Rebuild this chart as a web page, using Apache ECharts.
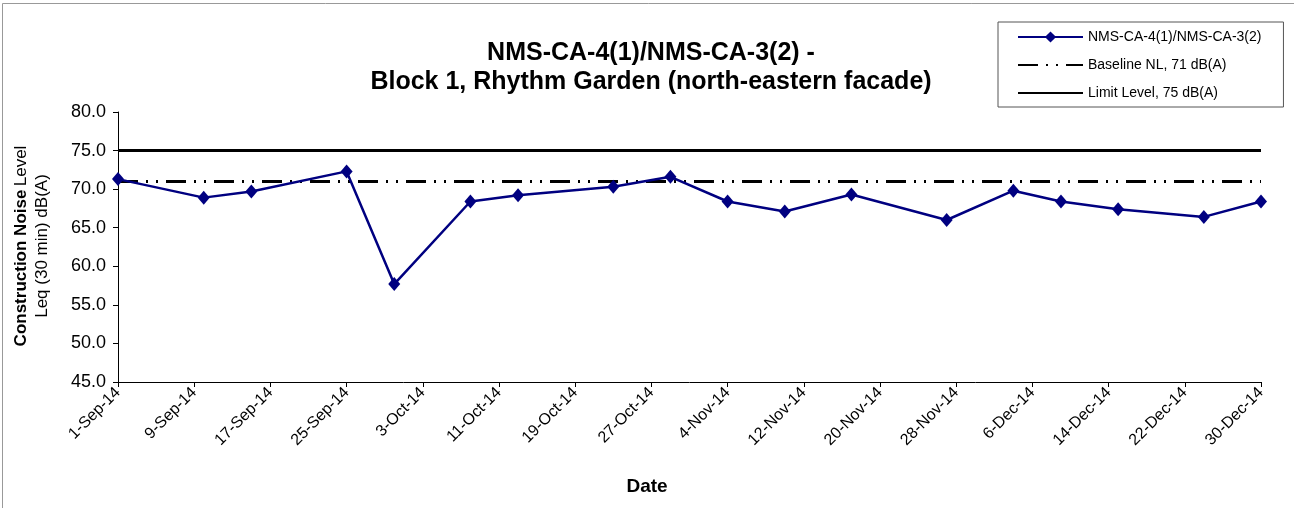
<!DOCTYPE html>
<html>
<head>
<meta charset="utf-8">
<script src="https://cdn.jsdelivr.net/npm/echarts@6/dist/echarts.min.js"></script>
<style>
html,body{margin:0;padding:0;background:#fff;}
#chart{width:1294px;height:508px;}
</style>
</head>
<body>
<div id="chart"></div>
<script>
// ---- data ----
var startDate = '2014-09-01';
var endDate = '2014-12-30';
var dates = ['2014-09-01','2014-09-10','2014-09-15','2014-09-25','2014-09-30','2014-10-08','2014-10-13','2014-10-23','2014-10-29','2014-11-04','2014-11-10','2014-11-17','2014-11-27','2014-12-04','2014-12-09','2014-12-15','2014-12-24','2014-12-30'];
var noiseValues = [71.3, 68.9, 69.7, 72.3, 57.7, 68.4, 69.2, 70.3, 71.6, 68.4, 67.1, 69.3, 66.0, 69.8, 68.4, 67.4, 66.4, 68.4];
var baselineLevel = 71;
var limitLevel = 75;
var seriesNames = ['NMS-CA-4(1)/NMS-CA-3(2)', 'Baseline NL, 71 dB(A)', 'Limit Level, 75 dB(A)'];
var monthNames = ['Jan','Feb','Mar','Apr','May','Jun','Jul','Aug','Sep','Oct','Nov','Dec'];
var tickStepDays = 8;

// ---- helpers ----
var DAY = 86400000;
function toMs(s){ var p = s.split('-'); return Date.UTC(+p[0], +p[1]-1, +p[2]); }
var t0 = toMs(startDate);
function dayOffset(s){ return Math.round((toMs(s) - t0) / DAY); }
function fmtDay(v){
  var d = new Date(t0 + v * DAY);
  return d.getUTCDate() + '-' + monthNames[d.getUTCMonth()] + '-' + String(d.getUTCFullYear()).slice(2);
}
var endOffset = dayOffset(endDate);
var noiseData = dates.map(function(d, i){ return [dayOffset(d), noiseValues[i]]; });
var baselineData = [[0, baselineLevel], [endOffset, baselineLevel]];
var limitData = [[0, limitLevel], [endOffset, limitLevel]];

var chart = echarts.init(document.getElementById('chart'), null, {renderer: 'canvas'});
var FONT = 'Liberation Sans, Arial, sans-serif';
chart.setOption({
  animation: false,
  backgroundColor: '#fff',
  textStyle: { fontFamily: FONT },
  title: {
    text: 'NMS-CA-4(1)/NMS-CA-3(2) -\nBlock 1, Rhythm Garden (north-eastern facade)',
    left: 646, top: 34, textAlign: 'center',
    textStyle: { fontFamily: FONT, fontSize: 25, fontWeight: 'bold', color: '#000', lineHeight: 29 }
  },
  legend: {
    orient: 'vertical',
    left: 998, top: 22,
    padding: [8, 22, 7, 19],
    itemWidth: 65, itemHeight: 14, itemGap: 14,
    borderColor: '#555', borderWidth: 1,
    data: [
      { name: seriesNames[0] },
      { name: seriesNames[1], itemStyle: { opacity: 0 } },
      { name: seriesNames[2], itemStyle: { opacity: 0 } }
    ],
    textStyle: { fontFamily: FONT, fontSize: 14, color: '#000' }
  },
  graphic: [
    {
      type: 'rect', silent: true, z: -1,
      shape: { x: 2.5, y: 3.5, width: 1400, height: 600 },
      style: { fill: null, stroke: '#999', lineWidth: 1 }
    },
    {
      type: 'text', x: 32, y: 246, rotation: Math.PI / 2,
      style: {
        text: '{b|Construction Noise} {n|Level}\n{n|Leq (30 min) dB(A)}',
        align: 'center', verticalAlign: 'middle',
        fill: '#000',
        rich: {
          b: { fontFamily: FONT, fontSize: 17, fontWeight: 'bold', lineHeight: 21, fill: '#000' },
          n: { fontFamily: FONT, fontSize: 17, lineHeight: 21, fill: '#000' }
        }
      }
    },
    {
      type: 'text', x: 647, y: 487,
      style: {
        text: 'Date', align: 'center', verticalAlign: 'middle',
        fontFamily: FONT, fontSize: 19, fontWeight: 'bold', fill: '#000'
      }
    }
  ],
  grid: { left: 118, right: 33, top: 112, bottom: 126 },
  xAxis: {
    type: 'value',
    min: 0, max: endOffset, interval: tickStepDays,
    axisLine: { lineStyle: { color: '#000', width: 1 } },
    axisTick: { show: true, length: 5, lineStyle: { color: '#000' } },
    splitLine: { show: false },
    axisLabel: {
      rotate: 45, margin: 8, color: '#000', fontFamily: FONT, fontSize: 16,
      showMinLabel: true, showMaxLabel: true,
      formatter: function(v){ return fmtDay(v); }
    }
  },
  yAxis: {
    type: 'value',
    min: 45, max: 80, interval: 5,
    axisLine: { show: true, lineStyle: { color: '#000', width: 1 } },
    axisTick: { show: true, length: 5, lineStyle: { color: '#000' } },
    splitLine: { show: false },
    axisLabel: {
      margin: 12, color: '#000', fontFamily: FONT, fontSize: 18,
      formatter: function(v){ return v.toFixed(1); }
    }
  },
  series: [
    {
      name: seriesNames[2], type: 'line', data: limitData,
      symbol: 'none', z: 2,
      lineStyle: { color: '#000', width: 3, type: 'solid' },
      itemStyle: { color: '#000' }
    },
    {
      name: seriesNames[1], type: 'line', data: baselineData,
      symbol: 'none', z: 2,
      lineStyle: { color: '#000', width: 3, type: [20, 8, 2, 8, 2, 8], cap: 'butt' },
      itemStyle: { color: '#000' }
    },
    {
      name: seriesNames[0], type: 'line', data: noiseData,
      symbol: 'diamond', symbolSize: [12, 14], z: 3,
      lineStyle: { color: '#000080', width: 2.5 },
      itemStyle: { color: '#000080' }
    }
  ]
});
</script>
</body>
</html>
